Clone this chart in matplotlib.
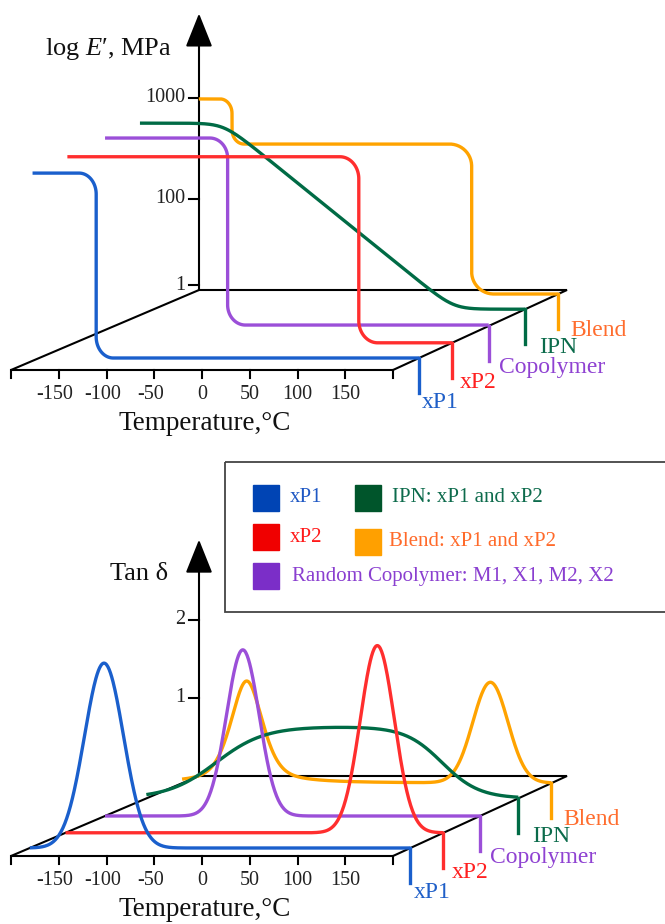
import numpy as np
import matplotlib.pyplot as plt
from matplotlib.patches import Rectangle

plt.rcParams['font.family'] = ['Liberation Serif', 'DejaVu Serif']
plt.rcParams['mathtext.fontset'] = 'custom'
plt.rcParams['mathtext.rm'] = 'Liberation Serif'
plt.rcParams['mathtext.it'] = 'Liberation Serif:italic'

# ---------------- data ----------------
series = ['xP1', 'xP2', 'Copolymer', 'IPN', 'Blend']
line_colors = ['#1a5fcc', '#ff2e2e', '#9b4fd8', '#006b45', '#ffa300']
label_colors = ['#1f5fc8', '#ff2020', '#8f42d2', '#0b6b4b', '#ff6d2e']

temp_ticks = [-150, -100, -50, 0, 50, 100, 150]
temp_range = [-200, 200]

# storage modulus panel (heights relative to the "1000" tick)
E_ticks = [0.026, 0.474, 1.0]
E_tick_labels = ['1', '100', '1000']
E_axis_top = 1.44
E_depth = [0.15, 0.34, 0.55, 0.76, 0.95]
E_start = [-207, -208, -210, -215, -190]
E_levels = [[0.963, 0.0], [0.969, 0.0], [0.979, 0.005], [0.969, 0.0], [1.016, 0.781, 0.0]]
E_transitions = [[-140], [101], [-79], [-125, 123], [-154, 106]]   # IPN: ramp start / end
E_corner_T = [[18], [20], [19], [9], [13, 24]]
E_corner_v = [[0.11], [0.115], [0.105], [0.0], [0.075, 0.115]]

# tan delta panel
D_ticks = [1, 2]
D_axis_top = 3.03
D_depth = [0.10, 0.29, 0.50, 0.72, 0.91]
D_start = [-200, -200, -200, -200, -200]
D_centers = [[-122], [130], [-53], [-125, 118], [-130, 134]]   # IPN: rise / fall
D_heights = [[2.37], [2.40], [2.13], [0.92], [1.31, 1.29]]
D_widths = [[20.5], [18], [17.5], [26, 20], [20.5, 19]]

legend_labels = ['xP1', 'xP2', 'Random Copolymer: M1, X1, M2, X2', 'IPN: xP1 and xP2', 'Blend: xP1 and xP2']
legend_box_colors = ['#0044b4', '#f00000', '#7b2ec8', '#00552b', '#ffa000']
legend_text_colors = ['#1f58c4', '#ff1a1a', '#8a3fd0', '#0d6b4c', '#ff6a2a']

# ---------------- oblique projection ----------------
PANEL_Y = {'top': (370, 290), 'bottom': (856, 776)}   # front / back edge
PX_UNIT = {'top': 192, 'bottom': 78}
FRONT = (202, 0.955)
BACK = (383, 0.92)


def proj(panel, t, d, v=0.0):
    t = np.asarray(t, float)
    yf, yb = PANEL_Y[panel]
    x = (1 - d) * (FRONT[0] + FRONT[1] * t) + d * (BACK[0] + BACK[1] * t)
    y = (1 - d) * yf + d * yb - np.asarray(v, float) * PX_UNIT[panel]
    return x, y


def step_curve(t0, t1, levels, tgs, rxs, rys, n=40):
    th = np.linspace(0, np.pi / 2, n)
    ts, vs = [t0], [levels[0]]
    for i, tg in enumerate(tgs):
        hi, lo = levels[i], levels[i + 1]
        rx, ry = rxs[i], rys[i]
        ts += list(tg - rx + rx * np.sin(th))
        vs += list(hi - ry + ry * np.cos(th))
        ts += list(tg + rx - rx * np.cos(th))
        vs += list(lo + ry - ry * np.sin(th))
    ts.append(t1)
    vs.append(levels[-1])
    return np.array(ts), np.array(vs)


def ramp_curve(t, hi, lo, t1, t2, w):
    sp = lambda z: np.logaddexp(0, z)
    r = w * (sp((t - t1) / w) - sp((t - t2) / w)) / (t2 - t1)
    return hi - (hi - lo) * r


def gauss(t, c, h, s):
    return h * np.exp(-0.5 * ((t - c) / s) ** 2)


def pvoigt(t, c, h, hw, eta=0.5):
    s = hw / 1.1774
    return h * ((1 - eta) * np.exp(-0.5 * ((t - c) / s) ** 2) + eta / (1 + ((t - c) / hw) ** 2))


def sigm(z):
    return 1 / (1 + np.exp(-z))


fig = plt.figure(figsize=(6.65, 9.24), dpi=100)
ax = fig.add_axes([0, 0, 1, 1])
ax.set_xlim(0, 665)
ax.set_ylim(924, 0)
ax.axis('off')

LW_AX = 1.5
LW_CURVE = 2.4
label_offsets = [(3, 9), (8, 5), (10, 7), (14, 3), (12, 1)]


def draw_frame(panel, ticks, tick_labels, axis_top, depths):
    t0, t1 = temp_range
    corners = [(t0, 1), (t0, 0), (t1, 0), (t1, 1), (t0, 1)]
    xs, ys = zip(*[proj(panel, t, d) for t, d in corners])
    ax.plot(xs, ys, color='black', lw=LW_AX, solid_joinstyle='miter', zorder=2)
    # temperature ticks on the front edge
    for t in [t0] + temp_ticks + [t1]:
        x, y = proj(panel, t, 0)
        ax.plot([x, x], [y, y + 8], color='black', lw=LW_AX, zorder=2)
    for t in temp_ticks:
        x, y = proj(panel, t, 0)
        ax.text(x - (4 if t < 0 else 0), y + 29, str(t), ha='center', va='baseline',
                fontsize=14.5, color='#222222')
    fx, fy = proj(panel, 0, 0)
    ax.text(205, fy + 60, 'Temperature,°C', ha='center', va='baseline', fontsize=19.5, color='#111111')
    # vertical axis with arrow
    bx, by = proj(panel, t0, 1)
    tx, ty = proj(panel, t0, 1, axis_top)
    ax.annotate('', xy=(tx, ty), xytext=(bx, by),
                arrowprops=dict(arrowstyle='-|>,head_length=1.5,head_width=0.6', mutation_scale=14,
                                lw=LW_AX, color='black', shrinkA=0, shrinkB=0), zorder=2)
    for v, lab in zip(ticks, tick_labels):
        x, y = proj(panel, t0, 1, v)
        ax.plot([x - 10, x], [y, y], color='black', lw=LW_AX, zorder=2)
        ax.text(x - 14, y, lab, ha='right', va='center', fontsize=14.5, color='#222222')
    # series markers on the right edge
    for i, d in enumerate(depths):
        x, y = proj(panel, t1, d)
        ax.plot([x, x], [y, y + 35], color=line_colors[i], lw=LW_CURVE, zorder=3)
        dx, dy = label_offsets[i]
        ax.text(x + dx, y + 35 + dy, series[i], ha='left', va='center', fontsize=17,
                color=label_colors[i])


# ---------------- top: storage modulus ----------------
draw_frame('top', E_ticks, E_tick_labels, E_axis_top, E_depth)
ax.text(45, 55, "log $E$′, MPa", ha='left', va='baseline', fontsize=19, color='#111111')

for i in range(len(series)):
    if series[i] == 'IPN':
        t = np.linspace(E_start[i], temp_range[1], 400)
        v = ramp_curve(t, E_levels[i][0], E_levels[i][1], E_transitions[i][0], E_transitions[i][1],
                       E_corner_T[i][0])
    else:
        t, v = step_curve(E_start[i], temp_range[1], E_levels[i], E_transitions[i],
                          E_corner_T[i], E_corner_v[i])
    x, y = proj('top', t, E_depth[i], v)
    ax.plot(x, y, color=line_colors[i], lw=LW_CURVE, solid_capstyle='butt', zorder=10 - i)

# ---------------- bottom: tan delta ----------------
draw_frame('bottom', D_ticks, [str(v) for v in D_ticks], D_axis_top, D_depth)
ax.text(110, 580, 'Tan δ', ha='left', va='baseline', fontsize=19, color='#111111')

for i in range(len(series)):
    t = np.linspace(D_start[i], temp_range[1], 600)
    c, h, w = D_centers[i], D_heights[i], D_widths[i]
    if series[i] == 'IPN':
        v = h[0] * sigm((t - c[0]) / w[0]) * sigm(-(t - c[1]) / w[1])
    elif series[i] == 'Blend':
        v = pvoigt(t, c[0], h[0], w[0]) + gauss(t, c[1], h[1], w[1])
    else:
        v = gauss(t, c[0], h[0], w[0])
    x, y = proj('bottom', t, D_depth[i], v)
    ax.plot(x, y, color=line_colors[i], lw=LW_CURVE, solid_capstyle='butt', zorder=10 - i)

# ---------------- legend ----------------
ax.add_patch(Rectangle((225, 462), 460, 150, fill=False, ec='#444444', lw=1.3, zorder=1))
legend_slots = [(253, 485, 290, 498), (253, 524, 290, 537), (253, 563, 292, 576),
                (355, 485, 392, 498), (355, 529, 389, 541)]
for (sx, sy, lx, ly), lab, bc, tc in zip(legend_slots, legend_labels, legend_box_colors, legend_text_colors):
    ax.add_patch(Rectangle((sx, sy), 26, 26, color=bc, zorder=3))
    ax.text(lx, ly, lab, ha='left', va='center', fontsize=15, color=tc)

fig.savefig('out.png', dpi=100)
